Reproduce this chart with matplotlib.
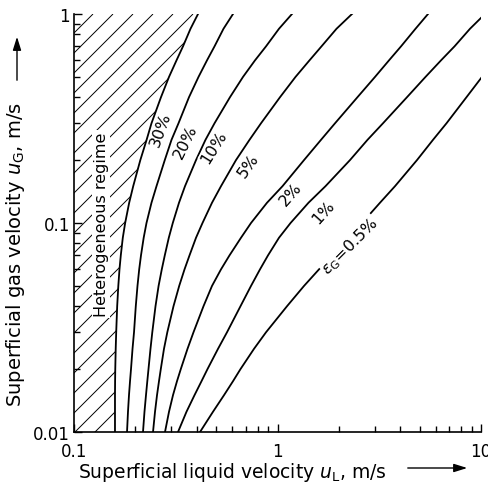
import numpy as np
import matplotlib
matplotlib.use('Agg')
import matplotlib.pyplot as plt
from matplotlib.patches import Polygon
from matplotlib.ticker import FixedLocator, LogLocator, NullFormatter

# superficial gas velocity (m/s) at which the curves were read
u_gas = [0.01, 0.0125, 0.015, 0.0175, 0.02, 0.025, 0.03, 0.04, 0.05, 0.06, 0.07, 0.085,
         0.1, 0.125, 0.15, 0.2, 0.25, 0.3, 0.4, 0.5, 0.6, 0.7, 0.85, 1.0]

# superficial liquid velocity (m/s) on each gas holdup line
ul_30 = [0.159, 0.159, 0.159, 0.1592, 0.1595, 0.1603, 0.1612, 0.163, 0.1651, 0.1673, 0.1698, 0.1737,
         0.1784, 0.1867, 0.1954, 0.2118, 0.2274, 0.2403, 0.2676, 0.293, 0.3189, 0.3432, 0.3737, 0.4068]
ul_20 = [0.1822, 0.1842, 0.1863, 0.1885, 0.1906, 0.1939, 0.1972, 0.2012, 0.2051, 0.2091, 0.2134, 0.22,
         0.2271, 0.2403, 0.2543, 0.2793, 0.3014, 0.3262, 0.3674, 0.4091, 0.4503, 0.4903, 0.5428, 0.6044]
ul_10 = [0.2183, 0.222, 0.2258, 0.2292, 0.2323, 0.2376, 0.2425, 0.2515, 0.2604, 0.27, 0.2793, 0.2923,
         0.3058, 0.3281, 0.3511, 0.3977, 0.4427, 0.4903, 0.5842, 0.6768, 0.7752, 0.878, 1.017, 1.178]
ul_5 = [0.2445, 0.2501, 0.2558, 0.2616, 0.267, 0.2768, 0.2874, 0.3083, 0.3288, 0.3492, 0.3695, 0.3977,
        0.428, 0.4766, 0.5276, 0.6252, 0.7285, 0.8297, 1.029, 1.226, 1.436, 1.645, 1.95, 2.323]
ul_2 = [0.28, 0.293, 0.3065, 0.3207, 0.3348, 0.3612, 0.3865, 0.4329, 0.4766, 0.5276, 0.5809, 0.6616,
        0.741, 0.888, 1.058, 1.35, 1.636, 1.917, 2.472, 3.014, 3.531, 4.045, 4.766, 5.49]
ul_1 = [0.3244, 0.3571, 0.3909, 0.4232, 0.4529, 0.5101, 0.5647, 0.6579, 0.741, 0.8203, 0.8981, 1.017,
        1.159, 1.42, 1.721, 2.271, 2.769, 3.299, 4.329, 5.337, 6.36, 7.41, 8.83, 10.46]
ul_05 = [0.4161, 0.482, 0.5458, 0.6044, 0.6579, 0.7665, 0.878, 1.114, 1.35, 1.599, 1.853, 2.22,
         2.602, 3.189, 3.779, 4.847, 5.81, 6.768, 8.487, 10.11, 11.85, np.nan, np.nan, np.nan]

curves = [ul_30, ul_20, ul_10, ul_5, ul_2, ul_1, ul_05]
curve_labels = ['30%', '20%', '10%', '5%', '2%', '1%', r'$\varepsilon_\mathrm{G}$=0.5%']
label_ul = [0.268, 0.355, 0.488, 0.718, 1.165, 1.674, 2.27]
label_ug = [0.282, 0.247, 0.231, 0.19, 0.139, 0.113, 0.0776]
label_rot = [70, 64, 58, 55, 49, 48, 45]

fig = plt.figure(figsize=(4.88, 4.89), dpi=100)
ax = fig.add_axes([74 / 488, 1 - 433 / 489, 407 / 488, 418 / 489])
ax.set_xscale('log')
ax.set_yscale('log')
ax.set_xlim(0.1, 10)
ax.set_ylim(0.01, 1)

# hatched heterogeneous regime, left of the 30 % line
region = Polygon([(0.1, 0.01)] + list(zip(ul_30, u_gas)) + [(0.1, 1.0)],
                 closed=True, facecolor='none', edgecolor='none', transform=ax.transData)
ax.add_patch(region)
step = 20 / 407
slope = 407 / 418
for k in range(-25, 25):
    x0 = -1 / 407 + k * step
    ln, = ax.plot([x0 - 1.2, x0], [1 - 1.2 * slope, 1], transform=ax.transAxes,
                  color='black', lw=0.7, solid_capstyle='butt')
    ln.set_clip_path(region)

for ul in curves:
    ax.plot(ul, u_gas, color='black', lw=1.3)

for txt, x, y, r in zip(curve_labels, label_ul, label_ug, label_rot):
    ax.text(x, y, txt, rotation=r, ha='center', va='center', rotation_mode='anchor',
            fontsize=11.5, bbox=dict(facecolor='white', edgecolor='none', pad=0.5))

ax.text(0.1358, 0.0989, 'Heterogeneous regime', rotation=90, ha='center', va='center',
        fontsize=11.5, bbox=dict(facecolor='white', edgecolor='none', pad=1))

ax.spines['right'].set_visible(False)
ax.spines['top'].set_visible(False)
ax.spines['left'].set_linewidth(1.2)
ax.spines['bottom'].set_linewidth(1.2)

ax.xaxis.set_major_locator(FixedLocator([0.1, 1, 10]))
ax.yaxis.set_major_locator(FixedLocator([0.01, 0.1, 1]))
ax.set_xticklabels(['0.1', '1', '10'])
ax.set_yticklabels(['0.01', '0.1', '1'])
ax.xaxis.set_minor_locator(LogLocator(subs=range(2, 10)))
ax.yaxis.set_minor_locator(LogLocator(subs=range(2, 10)))
ax.xaxis.set_minor_formatter(NullFormatter())
ax.yaxis.set_minor_formatter(NullFormatter())
ax.tick_params(which='both', direction='in', width=1, labelsize=12)
ax.tick_params(which='major', length=6)
ax.tick_params(which='minor', length=4)
ax.tick_params(axis='x', pad=7)
ax.tick_params(axis='y', pad=3)

# axis titles with arrows
fig.text(78 / 488, 1 - 472 / 489, r'Superficial liquid velocity $u_\mathrm{L}$, m/s',
         ha='left', va='center', fontsize=13.5)
ax.annotate('', xy=(470, 489 - 469), xytext=(405, 489 - 469), xycoords='figure pixels',
            textcoords='figure pixels',
            arrowprops=dict(arrowstyle='-|>,head_length=0.8,head_width=0.25', color='black', lw=1))
fig.text(16 / 488, 1 - 407 / 489, r'Superficial gas velocity $u_\mathrm{G}$, m/s',
         ha='center', va='bottom', rotation=90, fontsize=14)
ax.annotate('', xy=(17, 489 - 35), xytext=(17, 489 - 84), xycoords='figure pixels',
            textcoords='figure pixels',
            arrowprops=dict(arrowstyle='-|>,head_length=0.8,head_width=0.25', color='black', lw=1))

fig.savefig('out.png', dpi=100)
